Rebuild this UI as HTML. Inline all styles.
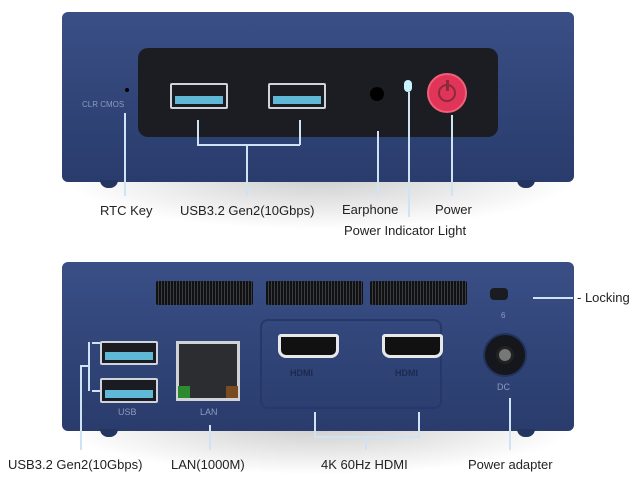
<!DOCTYPE html>
<html><head><style>
body{margin:0;width:640px;height:485px;background:#fff;position:relative;overflow:hidden;font-family:"Liberation Sans",sans-serif}
div{position:absolute;box-sizing:border-box}
.body{background:linear-gradient(#3a4f86,#2f4376 60%,#2a3c6c);border-radius:6px}
.ln{background:#cfe3f5}
.t{font-size:13px;color:#222;white-space:nowrap}
.usb{background:#1a1c22;border:2px solid #cfd3da;border-radius:2px}
.usb i{position:absolute;left:3px;right:3px;bottom:3px;height:8px;background:#5fb8d6}
.vent{background:repeating-linear-gradient(90deg,#111 0 2px,#3a3d44 2px 3px);border-radius:2px}
.hd{background:#111;border:3px solid #e8e8e8;border-radius:3px 3px 8px 8px}
.lbl{font-size:8px;color:#8b9ac0}
</style></head><body>
<div style="left:60px;top:170px;width:520px;height:60px;background:radial-gradient(ellipse at 50% 10%,#ccc,#fff 70%)"></div>
<div style="left:60px;top:420px;width:520px;height:55px;background:radial-gradient(ellipse at 50% 10%,#ccc,#fff 70%)"></div>
<!-- top device -->
<div class="body" style="left:62px;top:12px;width:512px;height:170px"></div>
<div style="left:100px;top:180px;width:18px;height:8px;background:#243560;border-radius:0 0 8px 8px"></div>
<div style="left:517px;top:180px;width:18px;height:8px;background:#243560;border-radius:0 0 8px 8px"></div>
<div style="left:138px;top:48px;width:360px;height:89px;background:#1c1d22;border-radius:10px"></div>
<div class="usb" style="left:170px;top:83px;width:58px;height:26px"><i></i></div>
<div class="usb" style="left:268px;top:83px;width:58px;height:26px"><i></i></div>
<div style="left:370px;top:87px;width:14px;height:14px;background:#000;border-radius:50%"></div>
<div style="left:404px;top:80px;width:8px;height:12px;background:#c8f2ff;border-radius:4px"></div>
<div style="left:427px;top:73px;width:40px;height:40px;background:#e03558;border-radius:50%;border:2px solid #f06078"></div>
<div style="left:438px;top:84px;width:18px;height:18px;border:2px solid #8a2a3a;border-radius:50%"></div>
<div style="left:446px;top:80px;width:3px;height:11px;background:#8a2a3a"></div>
<div style="left:125px;top:88px;width:4px;height:4px;background:#000;border-radius:50%"></div>
<div class="lbl" style="left:82px;top:100px">CLR CMOS</div>
<div class="ln" style="left:124px;top:113px;width:1.5px;height:83px"></div>
<div class="ln" style="left:197px;top:120px;width:1.5px;height:25px"></div>
<div class="ln" style="left:299px;top:120px;width:1.5px;height:25px"></div>
<div class="ln" style="left:197px;top:144px;width:103px;height:1.5px"></div>
<div class="ln" style="left:246px;top:144px;width:1.5px;height:52px"></div>
<div class="ln" style="left:377px;top:131px;width:1.5px;height:65px"></div>
<div class="ln" style="left:408px;top:92px;width:1.5px;height:125px"></div>
<div class="ln" style="left:451px;top:115px;width:1.5px;height:81px"></div>
<div class="t" style="left:100px;top:203px">RTC Key</div>
<div class="t" style="left:180px;top:203px">USB3.2 Gen2(10Gbps)</div>
<div class="t" style="left:342px;top:202px">Earphone</div>
<div class="t" style="left:435px;top:202px">Power</div>
<div class="t" style="left:344px;top:223px">Power Indicator Light</div>
<!-- bottom device -->
<div class="body" style="left:62px;top:262px;width:512px;height:169px"></div>
<div style="left:100px;top:429px;width:18px;height:8px;background:#243560;border-radius:0 0 8px 8px"></div>
<div style="left:517px;top:429px;width:18px;height:8px;background:#243560;border-radius:0 0 8px 8px"></div>
<div class="vent" style="left:156px;top:281px;width:97px;height:24px"></div>
<div class="vent" style="left:266px;top:281px;width:97px;height:24px"></div>
<div class="vent" style="left:370px;top:281px;width:97px;height:24px"></div>
<div style="left:490px;top:288px;width:18px;height:12px;background:#1a1c22;border-radius:4px"></div>
<div class="ln" style="left:533px;top:297px;width:40px;height:1.5px"></div>
<div class="t" style="left:577px;top:290px">- Locking</div>
<div class="usb" style="left:100px;top:341px;width:58px;height:24px"><i></i></div>
<div class="usb" style="left:100px;top:378px;width:58px;height:25px"><i></i></div>
<div style="left:176px;top:341px;width:64px;height:60px;background:#2b2d30;border:3px solid #cfd2d6"></div>
<div style="left:178px;top:386px;width:12px;height:12px;background:#2e8a2e"></div>
<div style="left:226px;top:386px;width:12px;height:12px;background:#7a4a20"></div>
<div class="lbl" style="left:118px;top:407px;font-size:9px">USB</div>
<div class="lbl" style="left:200px;top:407px;font-size:9px">LAN</div>
<div style="left:260px;top:319px;width:182px;height:90px;border:2px solid #26386a;border-radius:8px"></div>
<div class="hd" style="left:278px;top:334px;width:61px;height:24px"></div>
<div class="hd" style="left:382px;top:334px;width:61px;height:24px"></div>
<div style="left:290px;top:368px;font-size:9px;font-weight:bold;color:#1c2a50">HDMI</div>
<div style="left:395px;top:368px;font-size:9px;font-weight:bold;color:#1c2a50">HDMI</div>
<div style="left:483px;top:333px;width:44px;height:44px;background:#15171c;border-radius:50%;border:2px solid #22335e"></div>
<div style="left:496px;top:346px;width:18px;height:18px;background:#777;border-radius:50%;border:3px solid #222"></div>
<div class="lbl" style="left:497px;top:382px;font-size:9px">DC</div>
<div class="lbl" style="left:501px;top:311px">6</div>
<div class="ln" style="left:92px;top:342px;width:8px;height:1.5px"></div>
<div class="ln" style="left:92px;top:390px;width:8px;height:1.5px"></div>
<div class="ln" style="left:88px;top:342px;width:1.5px;height:49px"></div>
<div class="ln" style="left:80px;top:365px;width:9px;height:1.5px"></div>
<div class="ln" style="left:80px;top:365px;width:1.5px;height:85px"></div>
<div class="ln" style="left:209px;top:425px;width:1.5px;height:25px"></div>
<div class="ln" style="left:314px;top:412px;width:1.5px;height:25px"></div>
<div class="ln" style="left:418px;top:412px;width:1.5px;height:25px"></div>
<div class="ln" style="left:314px;top:436px;width:105px;height:1.5px"></div>
<div class="ln" style="left:365px;top:436px;width:1.5px;height:14px"></div>
<div class="ln" style="left:509px;top:398px;width:1.5px;height:52px"></div>
<div class="t" style="left:8px;top:457px">USB3.2 Gen2(10Gbps)</div>
<div class="t" style="left:171px;top:457px">LAN(1000M)</div>
<div class="t" style="left:321px;top:457px">4K 60Hz HDMI</div>
<div class="t" style="left:468px;top:457px">Power adapter</div>
</body></html>
